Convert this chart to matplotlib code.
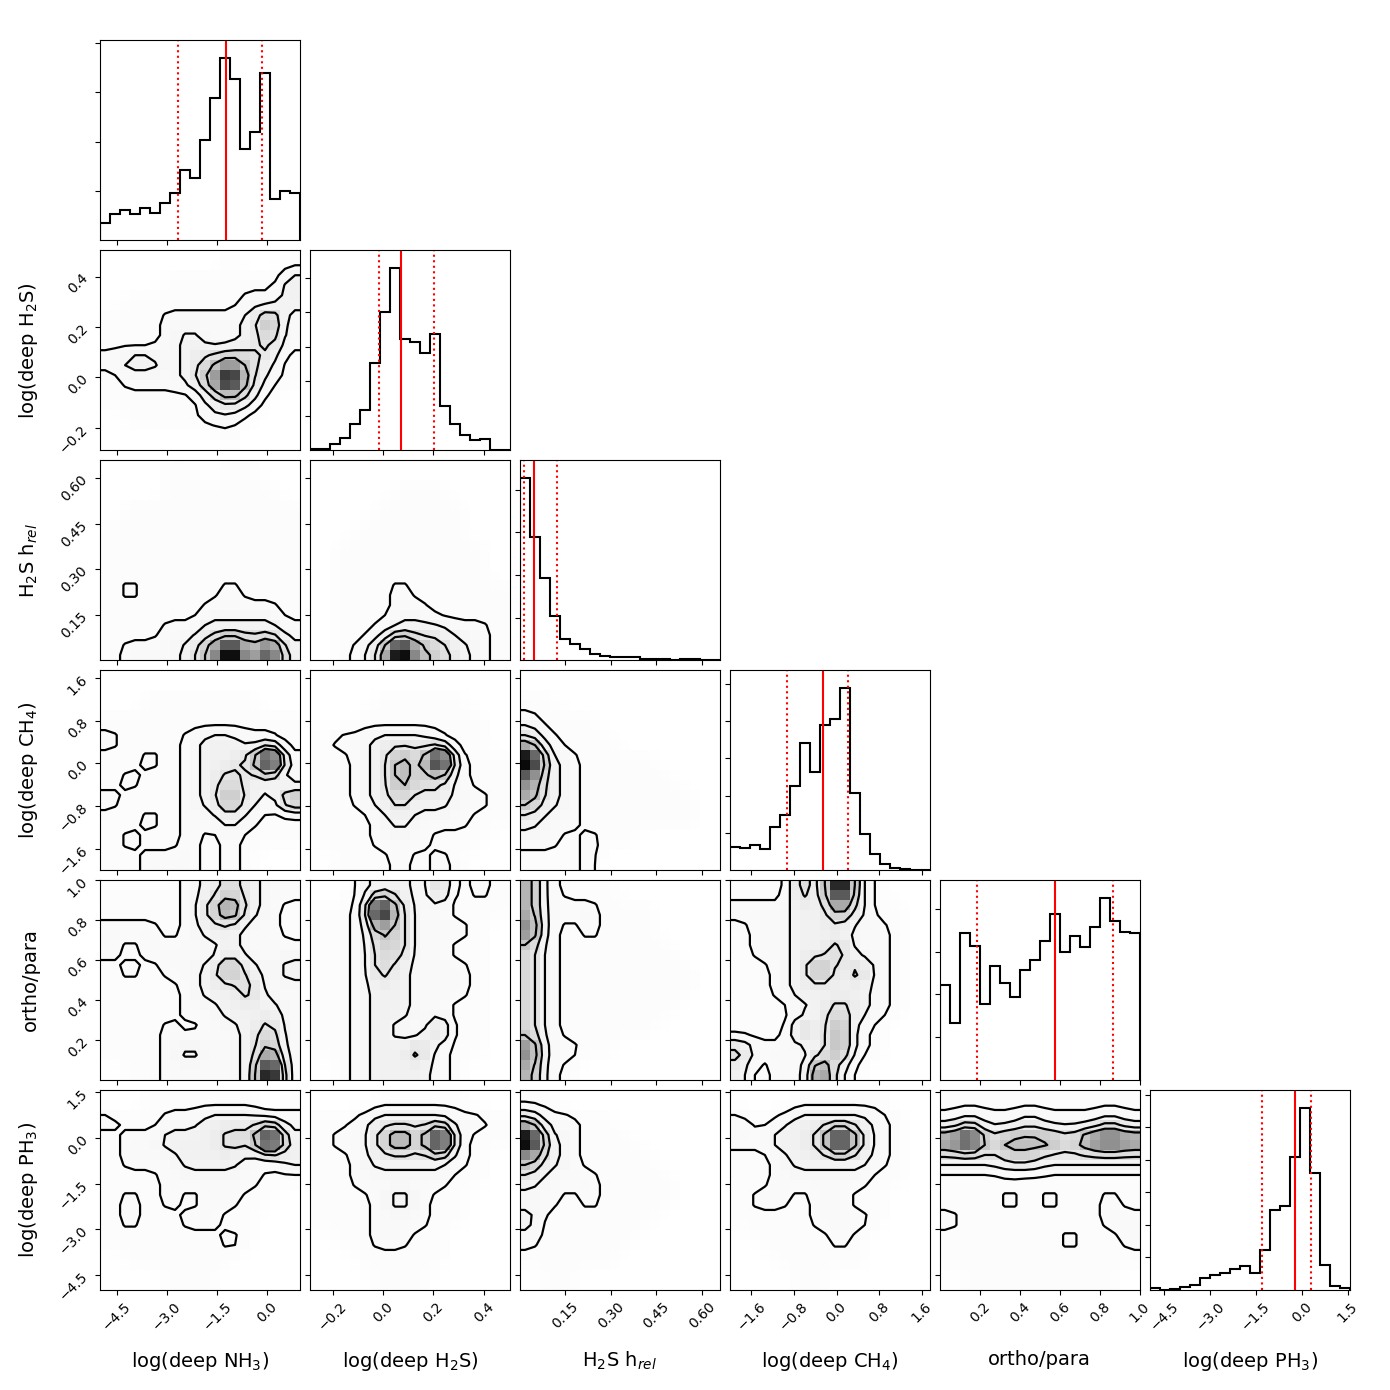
import numpy as np
import matplotlib
matplotlib.use("Agg")
import matplotlib.pyplot as plt

# parameter names, plot ranges and tick positions
labels = [r"log(deep NH$_3$)", r"log(deep H$_2$S)", r"H$_2$S h$_{rel}$",
          r"log(deep CH$_4$)", "ortho/para", r"log(deep PH$_3$)"]
ranges = [(-4.99, 0.97), (-0.29, 0.505), (0.0, 0.66),
          (-2.0, 1.75), (0.0, 1.0), (-4.98, 1.57)]
ticks = [[-4.5, -3.0, -1.5, 0.0], [-0.2, 0.0, 0.2, 0.4], [0.15, 0.30, 0.45, 0.60],
         [-1.6, -0.8, 0.0, 0.8, 1.6], [0.2, 0.4, 0.6, 0.8, 1.0],
         [-4.5, -3.0, -1.5, 0.0, 1.5]]

# 1D marginal histograms (20 bins over each range)
h_nh3 = [53, 78, 92, 80, 98, 83, 111, 143, 212, 186, 300, 428, 545, 482, 273, 326, 500, 125, 149, 143]
h_h2s = [3, 3, 20, 38, 80, 120, 260, 415, 545, 332, 325, 290, 348, 133, 80, 47, 30, 33, 2, 2]
h_hrel = [545, 368, 245, 132, 62, 48, 32, 18, 13, 8, 10, 8, 4, 2, 2, 1, 3, 3, 1, 1]
h_ch4 = [70, 65, 75, 62, 128, 165, 252, 380, 295, 435, 452, 545, 230, 108, 48, 18, 5, 2, 1, 1]
h_ortho = [285, 170, 442, 402, 227, 343, 292, 248, 330, 360, 418, 498, 385, 432, 398, 460, 545, 477, 445, 440]
h_ph3 = [5, 1, 4, 9, 15, 36, 44, 50, 63, 71, 50, 120, 239, 251, 399, 545, 350, 74, 12, 5]

# 16 / 50 / 84 percent quantiles
q_nh3 = [-2.675, -1.245, -0.163]
q_h2s = [-0.016, 0.0705, 0.2017]
q_hrel = [0.014, 0.048, 0.123]
q_ch4 = [-0.93, -0.26, 0.21]
q_ortho = [0.187, 0.578, 0.867]
q_ph3 = [-1.29, -0.23, 0.316]

# coarse 2D density levels (10x10, top row = high y, left col = low x)
# 0 empty, 1 scattered samples, 2..5 inside contour 1..4, 6..9 darker cells
d_h2s_nh3 = ["0000001001", "0001111113", "0111111223", "1112222352", "1112322342",
             "2332345431", "1222359421", "1111134310", "0111122100", "0000001000"]
d_hrel_nh3 = ["0001101100", "0001111110", "0111111111", "1111111111", "1111111111",
              "1111111111", "1211112111", "1111122221", "1112233332", "1222359573"]
d_hrel_h2s = ["0000000000", "0000111000", "0001111100", "0011111100", "0111111110",
              "0111111110", "0111211111", "0111221111", "0112333221", "0124954321"]
d_ch4_nh3 = ["0000000000", "0011111100", "1111111111", "2111233221", "1121233492",
             "1211234332", "2111235325", "1121223211", "1211212111", "1122212100"]
d_ch4_h2s = ["0000000000", "0001111100", "0011111110", "1223332110", "1123549211",
             "1123544211", "1123433221", "1112322211", "1112221110", "0111212100"]
d_ch4_hrel = ["0000000000", "1100000000", "2111000000", "4211100000", "9321111000",
              "6321111100", "5321111110", "3221111110", "2212110000", "1112000000"]
d_ortho_nh3 = ["1111234322", "1111246321", "2221233221", "2122223222", "1212235323",
               "1111233422", "1111223332", "1112122342", "1112322352", "0112222392"]
d_ortho_h2s = ["0023324121", "1129422111", "1125422210", "1124422110", "1124322210",
               "1123322210", "1123322110", "1123224110", "1123342110", "0123332100"]
d_ortho_hrel = ["5211100000", "5222111000", "6212111000", "4211111100", "4211111110",
                "4211111110", "4211111100", "4211111000", "6221100000", "5210000000"]
d_ortho_ch4 = ["1114393100", "2223353110", "1223332210", "1223342210", "1123534210",
               "1123333210", "1112343210", "1114352100", "4222352100", "3122631000"]
d_ph3_nh3 = ["0011111101", "2112233332", "1223334493", "1222333223", "1112222211",
             "1212122110", "1211221100", "1111112100", "0111111000", "0001110000"]
d_ph3_h2s = ["0001111100", "1123333221", "1224649211", "1123333210", "1122222110",
             "1112321100", "1112221100", "0112211000", "0011111000", "0001110000"]
d_ph3_hrel = ["1100000000", "4221100000", "9321110000", "5321111000", "3222111100",
              "2212111100", "3111111000", "2111110000", "1111100000", "0110000000"]
d_ph3_ch4 = ["0001111100", "2123333210", "2233494210", "1123333210", "1122222110",
             "1221221100", "1111222100", "0111121000", "0011111000", "0001100000"]
d_ph3_ortho = ["1111111111", "2322322232", "6845554676", "3334433333", "1111111111",
               "1112121121", "2111111122", "1111112112", "1111111111", "0111111110"]

hists = [h_nh3, h_h2s, h_hrel, h_ch4, h_ortho, h_ph3]
quants = [q_nh3, q_h2s, q_hrel, q_ch4, q_ortho, q_ph3]
pairs = {(1, 0): d_h2s_nh3,
         (2, 0): d_hrel_nh3, (2, 1): d_hrel_h2s,
         (3, 0): d_ch4_nh3, (3, 1): d_ch4_h2s, (3, 2): d_ch4_hrel,
         (4, 0): d_ortho_nh3, (4, 1): d_ortho_h2s, (4, 2): d_ortho_hrel, (4, 3): d_ortho_ch4,
         (5, 0): d_ph3_nh3, (5, 1): d_ph3_h2s, (5, 2): d_ph3_hrel, (5, 3): d_ph3_ch4,
         (5, 4): d_ph3_ortho}

# count-axis tick spacing of the diagonal panels, as a fraction of their height
hist_tick_frac = [0.2465, 0.1725, 0.2128, 0.186, 0.214, 0.1625]
grey_of_level = [0, 0.025, 0.05, 0.12, 0.25, 0.4, 0.55, 0.78, 0.95, 1.0]
nb = 20


def upsample(g, n=nb):
    # bilinear resampling of the coarse grid onto the 20x20 histogram grid
    m = g.shape[0]
    c = (np.arange(m) + 0.5) / m
    f = (np.arange(n) + 0.5) / n
    tmp = np.array([np.interp(f, c, row) for row in g])
    return np.array([np.interp(f, c, col) for col in tmp.T]).T


fig, axes = plt.subplots(6, 6, figsize=(13.9, 13.9))
fig.subplots_adjust(left=0.072, right=0.971, bottom=0.072, top=0.971,
                    wspace=0.05, hspace=0.05)

for i in range(6):
    for j in range(6):
        ax = axes[i, j]
        if j > i:
            ax.set_axis_off()
            continue
        xr = ranges[j]
        if i == j:
            edges = np.linspace(xr[0], xr[1], nb + 1)
            centers = 0.5 * (edges[1:] + edges[:-1])
            ax.hist(centers, bins=edges, weights=hists[i], histtype="step",
                    color="k", lw=1.5)
            for k, q in enumerate(quants[i]):
                ax.axvline(q, color="r", ls="-" if k == 1 else ":", lw=1.5)
            top = 1.1 * max(hists[i])
            ax.set_ylim(0, top)
            step = hist_tick_frac[i] * top
            ax.set_yticks(step * np.arange(1, int(1 / hist_tick_frac[i]) + 1))
            ax.set_yticklabels([])
        else:
            yr = ranges[i]
            g = np.array([[int(ch) for ch in row] for row in pairs[(i, j)]], float)[::-1]
            f = upsample(g)
            xe = np.linspace(xr[0], xr[1], nb + 1)
            ye = np.linspace(yr[0], yr[1], nb + 1)
            shade = np.interp(f, np.arange(10), grey_of_level)
            ax.pcolormesh(xe, ye, shade, cmap="Greys", vmin=0, vmax=1,
                          shading="flat", edgecolors="none", antialiased=False)
            dx = (xr[1] - xr[0]) / nb
            dy = (yr[1] - yr[0]) / nb
            xc = xr[0] + dx * (np.arange(-1, nb + 1) + 0.5)
            yc = yr[0] + dy * (np.arange(-1, nb + 1) + 0.5)
            fp = np.pad(f, 1, mode="edge")
            ax.contour(xc, yc, fp, levels=[1.5, 2.5, 3.5, 4.5], colors="k",
                       linewidths=1.6)
            ax.set_ylim(yr)
            ax.set_yticks(ticks[i])
            if j == 0:
                ax.set_ylabel(labels[i], fontsize=14)
                ax.yaxis.set_label_coords(-0.3, 0.5)
                for lab in ax.get_yticklabels():
                    lab.set_rotation(45)
            else:
                ax.set_yticklabels([])
        ax.set_xlim(xr)
        ax.set_xticks(ticks[j])
        if i == 5:
            ax.set_xlabel(labels[j], fontsize=14)
            ax.xaxis.set_label_coords(0.5, -0.3)
            for lab in ax.get_xticklabels():
                lab.set_rotation(45)
        else:
            ax.set_xticklabels([])

fig.savefig("out.png", dpi=100)
